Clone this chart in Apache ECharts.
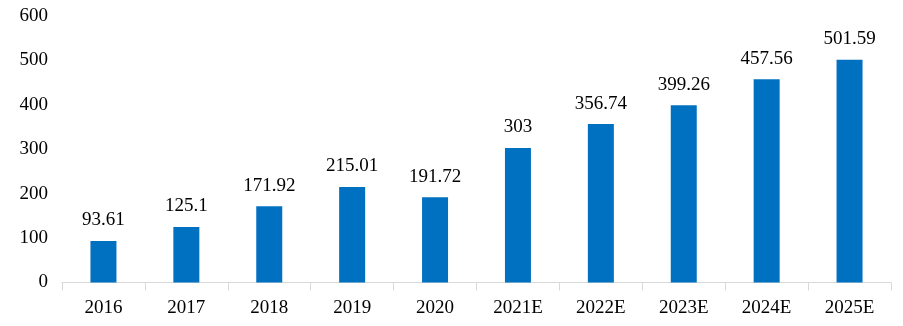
<!DOCTYPE html>
<html>
<head>
<meta charset="utf-8">
<script src="https://cdn.jsdelivr.net/npm/echarts@6/dist/echarts.min.js"></script>
<style>
  html, body { margin: 0; padding: 0; background: #fff; }
  #chart { width: 903px; height: 326px; }
</style>
</head>
<body>
<div id="chart"></div>
<script>
// Yearly values, actual 2016–2020 and estimates for 2021E–2025E
const years = ['2016', '2017', '2018', '2019', '2020', '2021E', '2022E', '2023E', '2024E', '2025E'];
const values = [93.61, 125.1, 171.92, 215.01, 191.72, 303, 356.74, 399.26, 457.56, 501.59];
const yTicks = { min: 0, max: 600, interval: 100 };

const font = '"Liberation Serif", "Times New Roman", serif';
const chart = echarts.init(document.getElementById('chart'));
chart.setOption({
  animation: false,
  grid: { left: 62, right: 12, top: 16, bottom: 43.5 },
  xAxis: {
    type: 'category',
    data: years,
    axisLine: { lineStyle: { color: '#d9d9d9', width: 1 } },
    axisTick: { show: true, length: 8, lineStyle: { color: '#d9d9d9' } },
    axisLabel: { color: '#000', fontFamily: font, fontSize: 19, margin: 16 }
  },
  yAxis: {
    type: 'value',
    min: yTicks.min,
    max: yTicks.max,
    interval: yTicks.interval,
    axisLine: { show: false },
    axisTick: { show: false },
    splitLine: { show: false },
    axisLabel: { color: '#000', fontFamily: font, fontSize: 19, margin: 14 }
  },
  series: [{
    type: 'bar',
    data: values,
    barWidth: 26,
    itemStyle: { color: '#0070C0' },
    label: {
      show: true,
      position: 'top',
      distance: 11,
      color: '#000',
      fontFamily: font,
      fontSize: 19
    }
  }]
});
</script>
</body>
</html>
